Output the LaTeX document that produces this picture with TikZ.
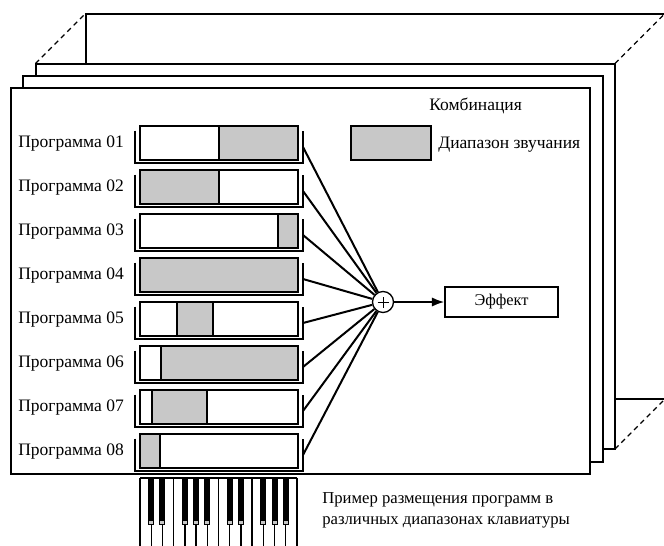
\documentclass[tikz,border=0pt]{standalone}
\usepackage{fontspec}
\setmainfont{Liberation Serif}
\usetikzlibrary{arrows.meta}

\definecolor{rangegray}{RGB}{200,200,200}

\begin{document}
\begin{tikzpicture}[x=0.6pt, y=-0.6pt]

	\tikzstyle{page_frame}=[draw=black, fill=white, line width=1.2pt]
	\tikzstyle{depth_line}=[dashed, dash pattern=on 3pt off 2.4pt, line width=0.7pt]
	\tikzstyle{bar_frame}=[draw=black, fill=white, line width=0.8pt]
	\tikzstyle{sound_range}=[draw=black, fill=rangegray, line width=0.8pt]
	\tikzstyle{bracket}=[line width=0.7pt]
	\tikzstyle{connector}=[line width=1.2pt]
	\tikzstyle{program_label}=[anchor=base west, inner sep=0pt, font=\fontsize{10.5}{12}\selectfont]
	\tikzstyle{sum_node}=[circle, draw=black, fill=white, line width=0.8pt, minimum size=12.6pt, inner sep=0pt]
	\tikzstyle{effect_node}=[rectangle, draw=black, line width=0.8pt, minimum width=67.8pt, minimum height=18pt, font=\fontsize{9.8}{11}\selectfont]
	\tikzstyle{effect_arrow}=[-{Latex[length=7.5pt, width=5.6pt]}, line width=1.2pt]
	\tikzstyle{legend_box}=[rectangle, draw=black, fill=rangegray, line width=0.8pt, minimum width=48pt, minimum height=20.4pt]
	\tikzstyle{key_line}=[line width=0.8pt]

	\clip (0, 0) rectangle (664, 546);
	\fill[white] (0, 0) rectangle (664, 546);

	% stack of combinations
	\draw[page_frame] (85.5, 13.5) rectangle (665, 399);
	\draw[depth_line] (35.5, 63.5) -- (85.5, 13.5);
	\draw[depth_line] (615, 63.5) -- (665, 13.5);
	\draw[depth_line] (615, 449) -- (665, 399);
	\draw[page_frame] (35.5, 63.5) rectangle (615, 449);
	\draw[page_frame] (23, 76) rectangle (602.5, 461.5);
	\draw[page_frame] (11, 88) rectangle (590, 474);

	\node[program_label] at (429, 110.7) (combination) {Комбинация};
	\node[legend_box] at (391, 143) (legend_box) {};
	\node[program_label] at (438, 148.5) (legend) {Диапазон звучания};

	\node[sum_node] at (383, 302) (sum) {};
	\draw[line width=0.6pt] ([xshift=-3.3pt]sum.center) -- ([xshift=3.3pt]sum.center);
	\draw[line width=0.6pt] ([yshift=-3.3pt]sum.center) -- ([yshift=3.3pt]sum.center);
	\node[effect_node] at (501.5, 302) (effect) {Эффект};
	\draw[effect_arrow] (sum) -- (effect);

	% programs and their ranges
	\foreach \i/\a/\b in {1/219/298, 2/140/219, 3/278/298, 4/140/298, 5/177/213, 6/161/298, 7/152/207, 8/140/160}
	{
		\pgfmathsetmacro{\y}{143+44*(\i-1)}
		\node[program_label] at (18, \y+4.7) (label_\i) {Программа 0\i};
		\draw[bar_frame] (140, \y-17) rectangle (298, \y+17);
		\draw[sound_range] (\a, \y-17) rectangle (\b, \y+17);
		\draw[bracket] (135, \y-12.5) |- (303, \y+20) -- (303, \y-12.5);
		\coordinate (out_\i) at (303, \y+4);
		\draw[connector] (out_\i) -- (sum);
	}

	% keyboard
	\draw[key_line] (140, 478) -- (297, 478);
	\foreach \k in {0,...,14}
		\draw[key_line] (140+\k*11.214, 478) -- (140+\k*11.214, 550);
	\foreach \k in {1,2,4,5,6,8,9,11,12,13}
	{
		\fill[black] (140+\k*11.214-3, 478) rectangle (140+\k*11.214+3, 525);
		\fill[gray!45] (140+\k*11.214-2, 520.5) rectangle (140+\k*11.214+2, 524);
	}

	\node[program_label, align=left, font=\fontsize{10}{12.6}\selectfont] at (322, 524.3) (keyboard_note) {Пример размещения программ в\\различных диапазонах клавиатуры};
\end{tikzpicture}
\end{document}
